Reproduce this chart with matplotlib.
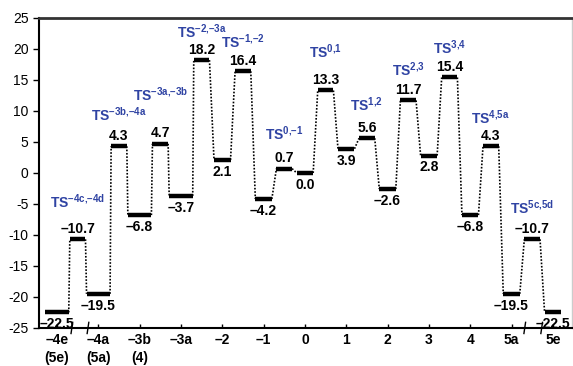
import matplotlib
matplotlib.use('Agg')
import matplotlib.pyplot as plt
import matplotlib.transforms as mtransforms

plt.rcParams['font.family'] = ['Liberation Sans', 'DejaVu Sans']
plt.rcParams['axes.unicode_minus'] = False
plt.rcParams['mathtext.fontset'] = 'custom'
plt.rcParams['mathtext.bf'] = 'Liberation Sans:bold'
plt.rcParams['mathtext.rm'] = 'Liberation Sans'

# Data: intermediates (on the ticks) and transition states (between ticks)
tick_labels = ['–4e\n(5e)', '–4a\n(5a)', '–3b\n(4)', '–3a', '–2', '–1', '0',
               '1', '2', '3', '4', '5a', '5e']
int_energy = [-22.5, -19.5, -6.8, -3.7, 2.1, -4.2, 0.0, 3.9, -2.6, 2.8, -6.8, -19.5, -22.5]
ts_energy = [-10.7, 4.3, 4.7, 18.2, 16.4, 0.7, 13.3, 5.6, 11.7, 15.4, 4.3, -10.7]
ts_names = ['–4c{,}–4d', '–3b{,}–4a', '–3a{,}–3b', '–2{,}–3a', '–1{,}–2', '0{,}–1',
            '0{,}1', '1{,}2', '2{,}3', '3{,}4', '4{,}5a', '5c{,}5d']
# height of the TS name above its level
ts_name_y = [-4.7, 9.4, 12.6, 22.7, 21.1, 6.4, 19.5, 11.0, 16.6, 20.2, 8.9, -5.6]

blue = '#2f43a3'

fig = plt.figure(figsize=(5.73, 3.66), dpi=100)
ax = fig.add_axes([0.068, 0.104, 0.93, 0.847])

# build the path: I0, T0, I1, T1, ...
levels = []
for i, e in enumerate(int_energy):
    w = 0.57 if i < 4 else 0.4
    levels.append((i, e, w, False))
    if i < len(ts_energy):
        levels.append((i + 0.5, ts_energy[i], 0.38, True))

for x, e, w, is_ts in levels:
    ax.plot([x - w / 2, x + w / 2], [e, e], color='black', lw=3.2, solid_capstyle='butt')
    txt = f'{e:.1f}'.replace('-', '–')
    if is_ts:
        ax.annotate(txt, (x, e), xytext=(0, 2.5), textcoords='offset points',
                    ha='center', va='bottom', fontsize=10, fontweight='bold')
    else:
        ax.annotate(txt, (x, e), xytext=(0, -3.5), textcoords='offset points',
                    ha='center', va='top', fontsize=10, fontweight='bold')

for (x0, e0, w0, _), (x1, e1, w1, _) in zip(levels[:-1], levels[1:]):
    ax.plot([x0 + w0 / 2, x1 - w1 / 2], [e0, e1], color='black', lw=1.2, ls=(0, (1, 1)))

for i, name in enumerate(ts_names):
    ax.text(i + 0.5, ts_name_y[i], r'$\mathbf{TS}^{\mathbf{' + name + '}}$',
            ha='center', va='center', fontsize=10, color=blue)

# axis break marks
trans = mtransforms.blended_transform_factory(ax.transData, ax.transAxes)
for bx in [0.36, 0.75, 11.32, 11.73]:
    ax.plot([bx - 0.02, bx + 0.02], [-0.018, 0.018], color='black', lw=1.0,
            transform=trans, clip_on=False)

ax.set_xlim(-0.436, 12.46)
ax.set_ylim(-25, 25)
ax.set_yticks(range(-25, 26, 5))
ax.set_xticks(range(len(tick_labels)))
ax.set_xticklabels(tick_labels, fontsize=10, fontweight='bold', linespacing=1.3, va='top')
ax.tick_params(axis='y', direction='out', length=4, width=1, labelsize=10)
ax.tick_params(axis='x', direction='in', length=3, width=1, pad=4)

ax.spines['left'].set_linewidth(1.5)
ax.spines['bottom'].set_linewidth(1.5)
ax.spines['top'].set_linewidth(2)
ax.spines['top'].set_color('#333333')
ax.spines['right'].set_color('#cccccc')
ax.spines['right'].set_linewidth(1)

fig.savefig('out.png', dpi=100)
